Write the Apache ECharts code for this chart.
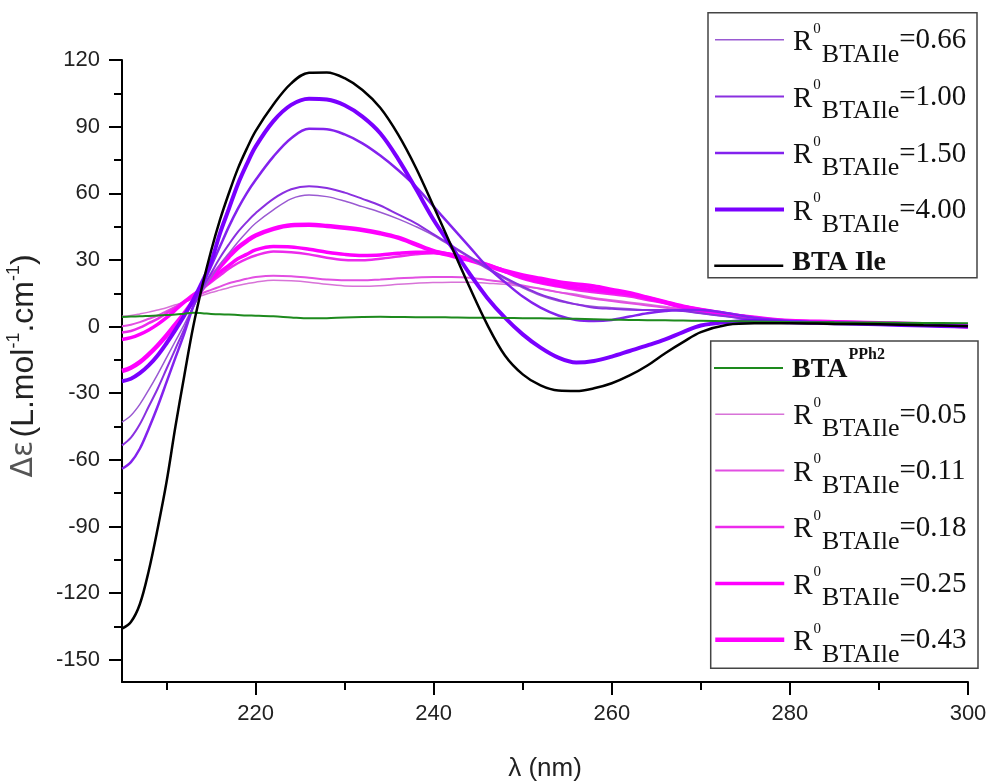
<!DOCTYPE html>
<html>
<head>
<meta charset="utf-8">
<script src="https://cdn.jsdelivr.net/npm/echarts@6/dist/echarts.min.js"></script>
<style>html,body{margin:0;padding:0;background:#fff;}#chart{width:993px;height:782px;}</style>
</head>
<body>
<div id="chart"></div>
<script>
// wavelength grid (nm)
const wl = [205,206,207,208,209,210,211,212,213,214,215,216,217,218,219,220,222,224,226,228,230,232,234,236,238,240,242,244,246,248,250,252,254,256,258,260,262,264,266,268,270,273,276,280,285,290,295,300];

const bta_pph2 = [4.3,4.5,4.6,4.8,5.0,5.2,5.4,5.8,6.2,6.0,5.7,5.5,5.4,5.2,5.0,4.9,4.6,4.1,3.7,3.8,4.1,4.3,4.4,4.3,4.2,4.2,4.1,4.0,4.0,3.9,3.8,3.7,3.6,3.5,3.3,3.1,3.0,2.9,2.8,2.7,2.6,2.4,2.3,2.1,1.9,1.8,1.6,1.5];
const r005 = [4.6,5.0,5.7,6.5,7.5,8.5,9.8,11,12.5,14,15.3,16.4,17.5,18.5,19.3,20,20.8,20.6,20,19,18.3,18.1,18.4,19,19.5,19.8,20,20,19.5,19,18,17,15.5,14.5,13,12,11,10,9,8,7,5.5,4,3,2.5,2,1.5,1];
const r011 = [0.1,0.8,2,3.5,5,7,9,11,13,15,16.5,18,19.5,20.5,21.5,22.3,22.9,22.7,22,21.2,20.8,20.8,21.2,21.7,22.1,22.3,22.3,22,21,20,18.5,17,15.5,14,12.5,11.5,10.5,9.5,8.5,7.5,6.5,5,3.5,2.5,2,1.5,1,0.5];
const r018 = [-2.7,-2,-0.5,1.5,3.5,6,8.5,11.5,14.5,17,20,23,26,28.5,30.5,32,33.8,33.5,32.5,31,30,29.8,30.5,31.5,32.5,33,32,30,27.5,24.5,21.5,19.5,18,16.5,15.5,14.5,13.5,12,10.5,8.5,7,5,3.5,2.5,2,1.5,1,0];
const r025 = [-5.8,-5,-3.5,-1.5,1,4,7.5,11,14,17.5,21,24.5,27.5,30.5,32.5,34.5,36,35.8,34.8,33.5,32.5,32,32.2,33,33.5,33.5,32.5,30.5,28,25,22,20,18.5,17.5,16.5,15.5,14.5,13,11,9,7.5,5.5,4,2.5,2,1.5,1,0];
const r043 = [-20,-18.5,-16,-12.5,-8.5,-4,1,6,11.5,17,22,27,31.5,35.5,38.5,41,44,45.6,45.8,45.3,44.5,43.5,42,40,37,34,32,30,27.5,25,23,21.5,20,19,18,16.5,15,13,11,9,7.5,5.5,4,2.5,2,1.5,1,0];
const r066 = [-43,-40,-35,-28.5,-21.5,-14,-6.5,1,9,16,22,28,33,38,42.5,46.5,52.5,57.5,59.2,58.5,56.5,54,51.5,48.5,45,41,36,31,26,21.5,17.5,14,11.5,10,9,8.5,8,7.5,7.5,7,6,4.5,3,2,1.5,1,0.5,0];
const r100 = [-53.5,-50,-44,-36,-28,-19,-10,-1,9,17,24,31,37,42.5,47,51,57.5,61.8,63.2,62.4,60.3,57.5,54.5,50.5,46.5,41.5,36.5,31.5,26.5,22,18,14.5,12,10,8.5,8,7.6,7.5,7.5,7,6,4.5,3,2,1.5,1,0.5,0];
const r150 = [-64,-61,-55,-46,-36,-25,-14,-3,9,18,27,36,45,53,60,66,76.5,84.8,89,88.8,86.5,82.5,77,70.5,63,54,45,36,27,20,13.5,8.5,5,3,2.5,3,4.5,6,7,7.5,7.5,6,4,2.5,1.5,1,0.5,0];
const r400 = [-24.6,-23.5,-21,-17.5,-13,-7.5,-1.5,5,12,20,29,42,53,64,73,81,92.5,99.8,102.6,102.2,99.6,94.5,87,75.5,62,48,36,24,13,4,-3.5,-9.5,-14,-16.2,-15.5,-13.5,-11,-8.5,-5.8,-2.5,0.5,2,2.5,2,1.5,1,0.5,0];
const bta_ile = [-136,-133,-125,-110,-91,-70,-45,-22,0,18,34,48,60,71,80,88,100,109.5,114.3,114.4,111.8,106.5,98.5,86.5,71.5,54,36,18,1,-13,-21.5,-26.5,-28.8,-29,-27.8,-25.5,-22,-17.5,-12,-7,-2.5,0.8,1.5,1.5,1.2,1,0.6,0.2];

const yMajor = [-150,-120,-90,-60,-30,0,30,60,90,120];
const yMinor = [-135,-105,-75,-45,-15,15,45,75,105];
const xMajor = [220,240,260,280,300];
const xMinor = [210,230,250,270,290];

const seriesDefs = [
  {name:'R0 BTAIle=0.05', data:r005, color:'#d873d8', width:1.5},
  {name:'R0 BTAIle=0.11', data:r011, color:'#e24fe2', width:2},
  {name:'R0 BTAIle=0.18', data:r018, color:'#ec2bec', width:2.5},
  {name:'R0 BTAIle=0.25', data:r025, color:'#ff00ff', width:3.5},
  {name:'R0 BTAIle=0.43', data:r043, color:'#ff00ff', width:4.5},
  {name:'R0 BTAIle=0.66', data:r066, color:'#9a5ad2', width:1.5},
  {name:'R0 BTAIle=1.00', data:r100, color:'#8a30e0', width:2},
  {name:'R0 BTAIle=1.50', data:r150, color:'#8322ee', width:2.5},
  {name:'R0 BTAIle=4.00', data:r400, color:'#7a00ff', width:4},
  {name:'BTA PPh2', data:bta_pph2, color:'#1d8a1d', width:2},
  {name:'BTA Ile', data:bta_ile, color:'#000000', width:2.5}
];

const series = seriesDefs.map(s => ({
  name: s.name, type: 'line', symbol: 'none', smooth: 0.35,
  data: wl.map((x, i) => [x, s.data[i]]),
  lineStyle: {color: s.color, width: s.width},
  itemStyle: {color: s.color},
  z: s.name === 'BTA Ile' ? 5 : 3
}));

const serif = "'Liberation Serif','Times New Roman',serif";
function fmt(name) {
  if (name.indexOf('R0 BTAIle=') === 0) {
    return '{r|R}{p|0}{s|BTAIle}{e|=' + name.slice(10) + '}';
  }
  if (name === 'BTA Ile') return '{b|BTA Ile}';
  return '{bb|BTA}{bp|PPh2}';
}
const richR = {
  r: {fontFamily: serif, fontSize: 29, lineHeight: 20, padding: [5.2,0,0,4], verticalAlign:'middle', color:'#111'},
  p: {fontFamily: serif, fontSize: 15, lineHeight: 4, padding: [0,0,22.2,1], verticalAlign:'middle', color:'#111'},
  s: {fontFamily: serif, fontSize: 26, lineHeight: 5.6, padding: [30.4,0,0,1], verticalAlign:'middle', color:'#111'},
  e: {fontFamily: serif, fontSize: 29, lineHeight: 20, padding: [1.8,0,0,0], verticalAlign:'middle', color:'#111'},
  b: {fontFamily: serif, fontSize: 28, fontWeight: 'bold', lineHeight: 24.5, padding: [0,0,5.5,4], verticalAlign:'middle', color:'#111'},
  bb: {fontFamily: serif, fontSize: 28, fontWeight: 'bold', lineHeight: 25.5, padding: [4.5,0,0,4], verticalAlign:'middle', color:'#111'},
  bp: {fontFamily: serif, fontSize: 16, fontWeight: 'bold', lineHeight: 2, padding: [0,0,26.8,1], verticalAlign:'middle', color:'#111'}
};
function legend(names, top, gap) {
  return {
    data: names, orient: 'vertical', left: 713, top: top, itemGap: gap,
    itemWidth: 69, itemHeight: 10, padding: 0, selectedMode: false,
    itemStyle: {opacity: 0},
    lineStyle: {width: 'inherit'},
    formatter: fmt,
    textStyle: {rich: richR}
  };
}

const chart = echarts.init(document.getElementById('chart'), null, {renderer: 'canvas'});
const axisFont = "'Liberation Sans', Arial, sans-serif";
chart.setOption({
  animation: false,
  backgroundColor: '#ffffff',
  grid: {left: 122, right: 25, top: 60, bottom: 100, containLabel: false, outerBoundsMode: 'none'},
  xAxis: [{
    type: 'value', min: 205, max: 300,
    name: 'λ (nm)', nameLocation: 'middle', nameGap: 74,
    nameTextStyle: {fontFamily: axisFont, fontSize: 26, color: '#222'},
    axisLine: {show: true, onZero: false, lineStyle: {color: '#000', width: 2}},
    axisTick: {show: true, inside: false, length: 13, customValues: xMajor, lineStyle: {color: '#000', width: 2}},
    axisLabel: {show: true, customValues: xMajor, margin: 21, fontFamily: axisFont, fontSize: 22, color: '#222'},
    splitLine: {show: false}
  }, {
    type: 'value', min: 205, max: 300, position: 'bottom',
    axisLine: {show: false, onZero: false},
    axisTick: {show: true, inside: false, length: 8, customValues: xMinor, lineStyle: {color: '#000', width: 2}},
    axisLabel: {show: false}, splitLine: {show: false}
  }],
  yAxis: [{
    type: 'value', min: -160, max: 120,
    name: '{d|Δε} {t|(L.mol}{u|-1}{t|.cm}{u|-1}{t|)}', nameLocation: 'middle', nameGap: 80, nameRotate: 90,
    nameTextStyle: {
      padding: [0,0,0,10],
      rich: {
        d: {fontFamily: "'DejaVu Sans', sans-serif", fontSize: 30, color: '#555', lineHeight: 36},
        t: {fontFamily: axisFont, fontSize: 32, color: '#222', lineHeight: 36},
        u: {fontFamily: axisFont, fontSize: 18, color: '#222', lineHeight: 10, padding: [0,0,20,0]}
      }
    },
    axisLine: {show: true, onZero: false, lineStyle: {color: '#000', width: 2}},
    axisTick: {show: true, inside: false, length: 13, customValues: yMajor, lineStyle: {color: '#000', width: 2}},
    axisLabel: {show: true, customValues: yMajor, margin: 22, fontFamily: axisFont, fontSize: 22, color: '#222'},
    splitLine: {show: false}
  }, {
    type: 'value', min: -160, max: 120, position: 'left',
    axisLine: {show: false, onZero: false},
    axisTick: {show: true, inside: false, length: 8, customValues: yMinor, lineStyle: {color: '#000', width: 2}},
    axisLabel: {show: false}, splitLine: {show: false}
  }],
  legend: [
    legend(['R0 BTAIle=0.66','R0 BTAIle=1.00','R0 BTAIle=1.50','R0 BTAIle=4.00'], 11.6, 0.2),
    legend(['BTA Ile'], 249, 10),
    legend(['BTA PPh2'], 346.6, 10),
    legend(['R0 BTAIle=0.05','R0 BTAIle=0.11','R0 BTAIle=0.18','R0 BTAIle=0.25','R0 BTAIle=0.43'], 386, 0)
  ],
  graphic: [
    {type: 'rect', shape: {x: 708, y: 12.7, width: 269, height: 265}, style: {fill: 'rgba(255,255,255,0)', stroke: '#444', lineWidth: 1.5}, silent: true},
    {type: 'rect', shape: {x: 710.7, y: 341, width: 267.3, height: 327.3}, style: {fill: 'rgba(255,255,255,0)', stroke: '#444', lineWidth: 1.5}, silent: true}
  ],
  series: series
});
</script>
</body>
</html>
